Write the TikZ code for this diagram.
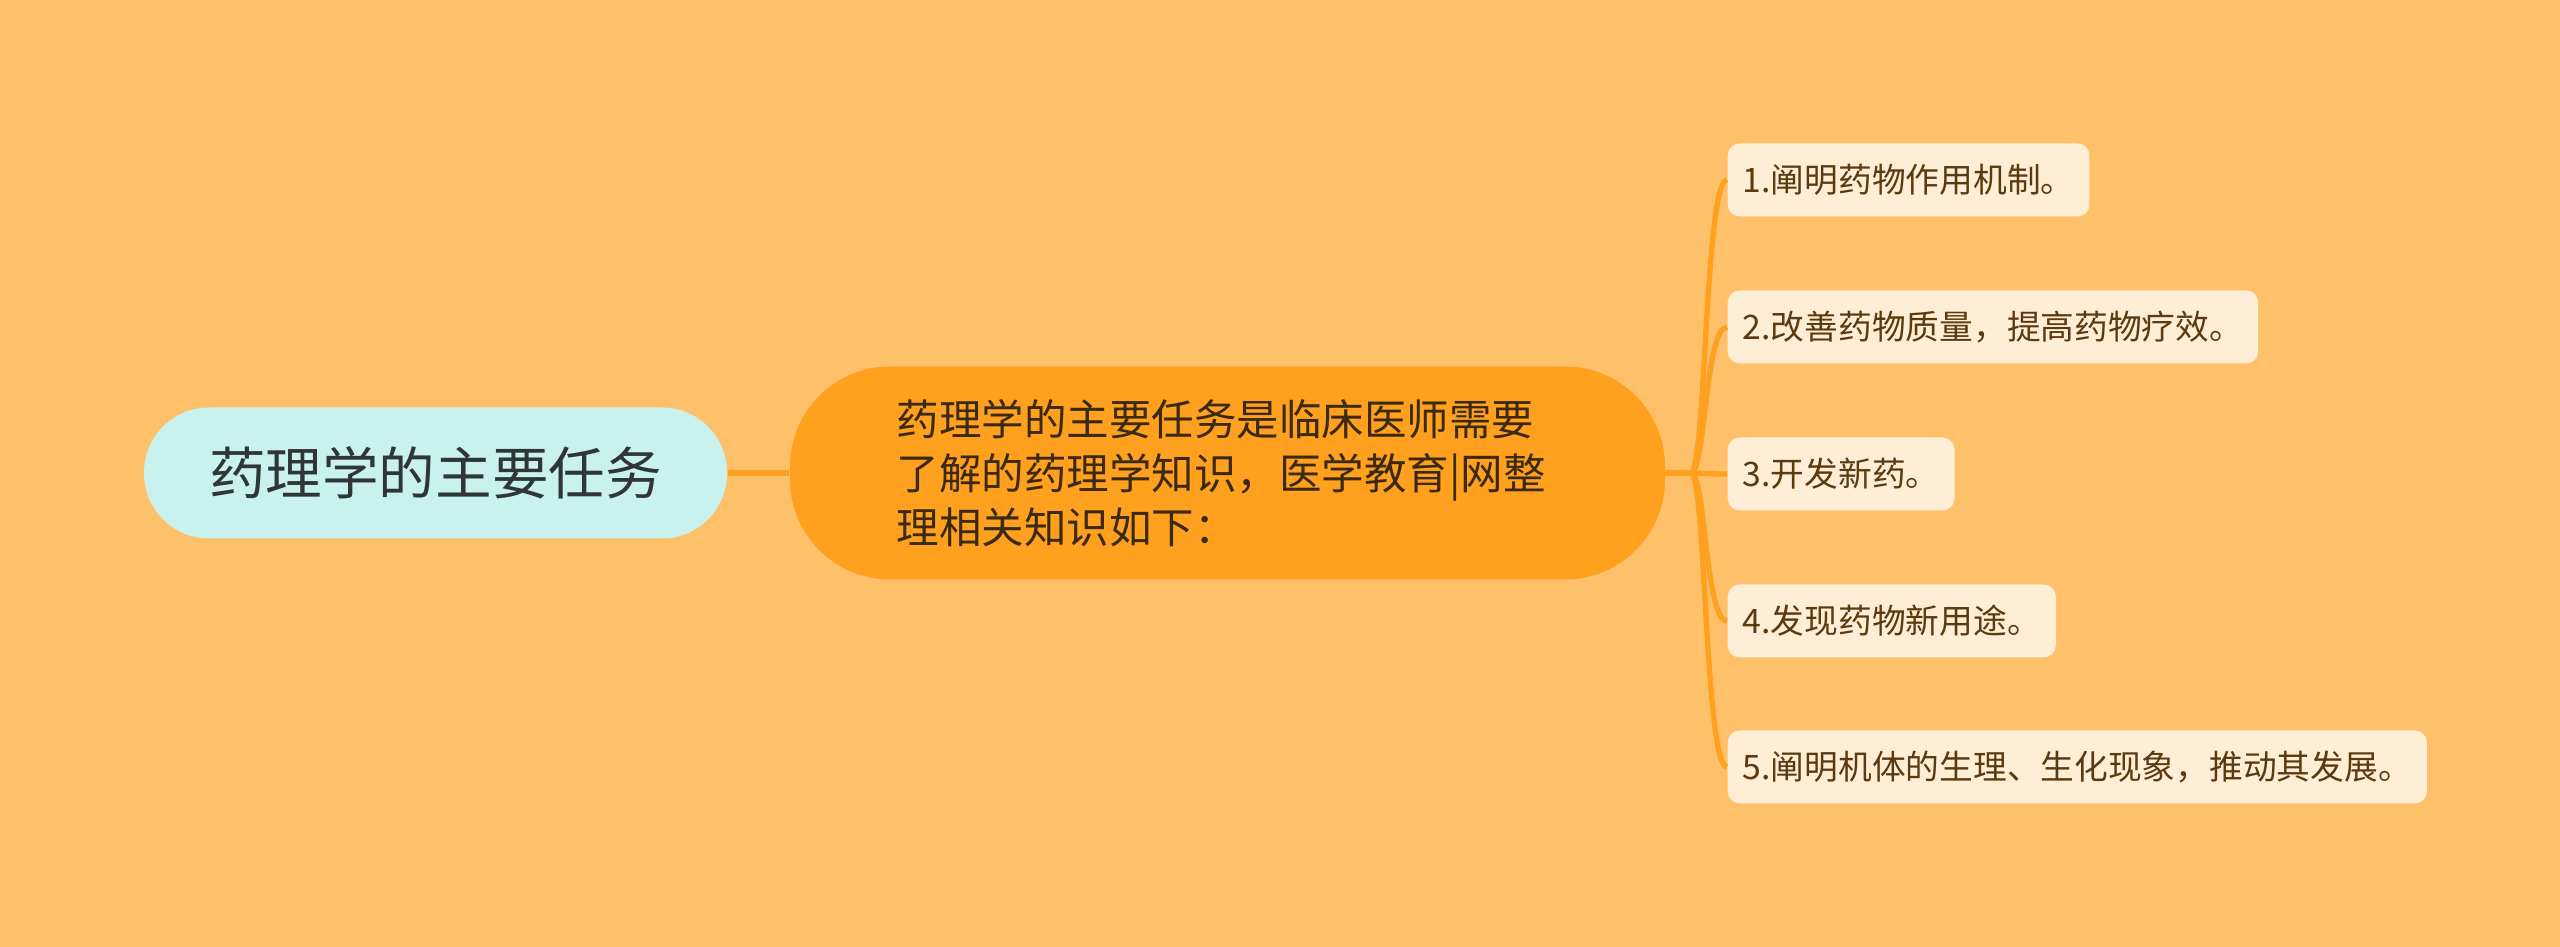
\documentclass[tikz,border=0pt]{standalone}
\usepackage{fontspec}
\setmainfont{Noto Sans CJK SC}
\usetikzlibrary{positioning}

\definecolor{bgcol}{HTML}{FFC06A}
\definecolor{rootcol}{HTML}{C9F2EF}
\definecolor{topiccol}{HTML}{FFA01E}
\definecolor{leafcol}{HTML}{FFEED6}
\definecolor{linkcol}{HTML}{FFA01E}
\definecolor{roottext}{HTML}{2F3636}
\definecolor{topictext}{HTML}{3B2A10}
\definecolor{leaftext}{HTML}{5C3A10}

\tikzset{
  rootbox/.style={fill=rootcol, text=roottext, rounded corners=0.65cm,
    minimum width=5.83cm, minimum height=1.31cm,
    font=\fontsize{16.1}{19}\selectfont},
  topicbox/.style={fill=topiccol, text=topictext, rounded corners=1.0cm,
    minimum width=8.75cm, minimum height=2.13cm, text width=6.62cm,
    align=left, font=\fontsize{12.1}{15.4}\selectfont},
  leafbox/.style={fill=leafcol, text=leaftext, rounded corners=0.12cm,
    minimum height=0.73cm, inner xsep=0.15cm, anchor=west,
    font=\fontsize{9.6}{11}\selectfont},
  link/.style={draw=linkcol, line width=1.5pt}
}

\begin{document}
\begin{tikzpicture}
  % background
  \fill[bgcol] (0,0) rectangle (25.6,9.47);
  \useasboundingbox (0,0) rectangle (25.6,9.47);

  % main topic and its description
  \node[rootbox] (main) at (4.355,4.74) {药理学的主要任务};
  \node[topicbox] (topic) at (12.275,4.74)
    {药理学的主要任务是临床医师需要\\了解的药理学知识，医学教育|网整\\理相关知识如下：};
  \draw[link] (main) -- (topic);

  % leaves
  \foreach \i/\y/\txt in
    {1/7.67/1.阐明药物作用机制。,
     2/6.20/2.改善药物质量，提高药物疗效。,
     3/4.73/3.开发新药。,
     4/3.26/4.发现药物新用途。,
     5/1.80/5.阐明机体的生理、生化现象，推动其发展。}
  {
    \node[leafbox] (l\i) at (17.27,\y) {\txt};
    \draw[link] (topic.east) -- ++(0.25,0)
      .. controls +(0.15,0) and +(-0.22,0) .. (l\i.west);
  }
\end{tikzpicture}
\end{document}
